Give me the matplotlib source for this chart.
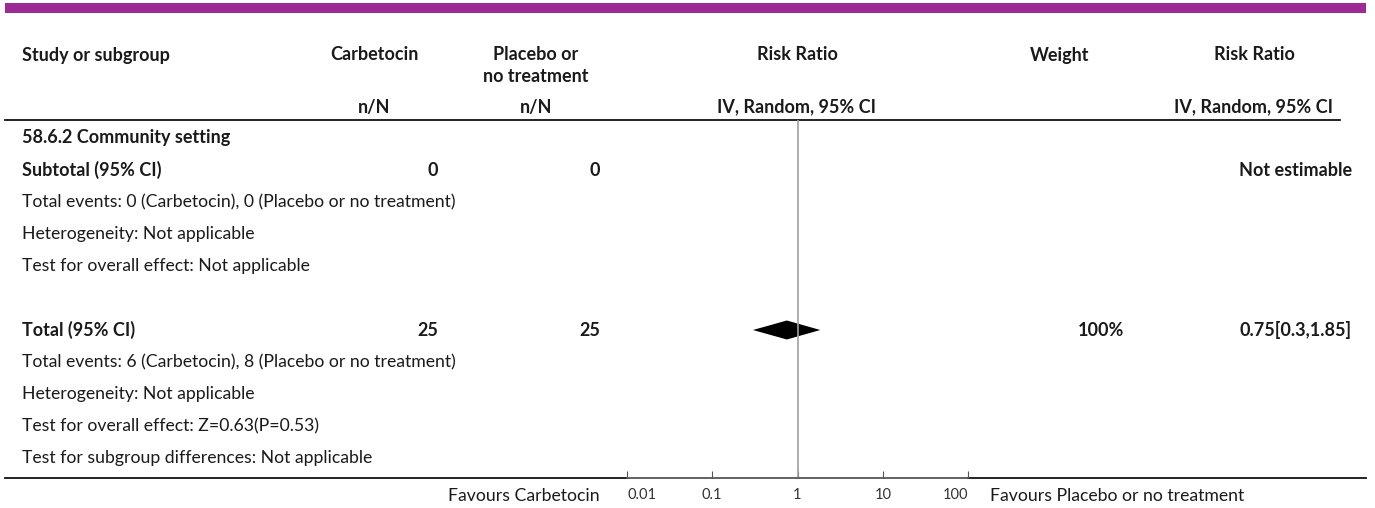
import matplotlib
matplotlib.use('Agg')
from matplotlib import pyplot as plt
import numpy as np

plt.rcParams['font.family'] = ['Lato', 'DejaVu Sans']

# data
exp_name = 'Carbetocin'
ctl_name = 'Placebo or no treatment'
subgroup_title = '58.6.2 Community setting'
subtotal_n = [0, 0]              # Carbetocin, Placebo
total_n = [25, 25]
events_sub = [0, 0]
events_total = [6, 8]
total_rr = 0.75
total_ci = [0.3, 1.85]
total_weight = '100%'
z_val = 0.63
p_val = 0.53
tick_vals = [0.01, 0.1, 1, 10, 100]
tick_labels = ['0.01', '0.1', '1', '10', '100']

W, H = 1375, 508
fig = plt.figure(figsize=(W / 100, H / 100), dpi=100)
bg = fig.add_axes([0, 0, 1, 1])
bg.set_xlim(0, W)
bg.set_ylim(H, 0)
bg.axis('off')

txt = '#1a1a1a'
fs = 12.7
fs_b = 13.0

# purple banner
bg.fill_between([5, 1366], 3, 13, color='#9c2a97', lw=0)

def t(x, y, s, ha='left', bold=False, color=txt, size=None):
    if size is None:
        size = fs_b if bold else fs
    bg.text(x, y, s, ha=ha, va='center', fontsize=size,
            fontweight='bold' if bold else 'normal', color=color)

# header
t(22, 55, 'Study or subgroup', bold=True)
t(374, 55, exp_name, ha='center', bold=True)
t(536, 55, 'Placebo or', ha='center', bold=True)
t(536, 76, 'no treatment', ha='center', bold=True)
t(797, 55, 'Risk Ratio', ha='center', bold=True)
t(1060, 55, 'Weight', ha='center', bold=True)
t(1254, 55, 'Risk Ratio', ha='center', bold=True)
t(374, 107, 'n/N', ha='center', bold=True)
t(536, 107, 'n/N', ha='center', bold=True)
t(797, 107, 'IV, Random, 95% CI', ha='center', bold=True)
t(1254, 107, 'IV, Random, 95% CI', ha='center', bold=True)
bg.plot([5, 1340], [120, 120], color='#111111', lw=1.3)

# subgroup
t(22, 138, subgroup_title, bold=True)
t(22, 170, 'Subtotal (95% CI)', bold=True)
t(438, 170, str(subtotal_n[0]), ha='right', bold=True)
t(600, 170, str(subtotal_n[1]), ha='right', bold=True)
t(1352, 170, 'Not estimable', ha='right', bold=True)
t(22, 202, f'Total events: {events_sub[0]} ({exp_name}), {events_sub[1]} ({ctl_name})')
t(22, 234, 'Heterogeneity: Not applicable')
t(22, 266, 'Test for overall effect: Not applicable')

# total
t(22, 330, 'Total (95% CI)', bold=True)
t(438, 330, str(total_n[0]), ha='right', bold=True)
t(600, 330, str(total_n[1]), ha='right', bold=True)
t(1124, 330, total_weight, ha='right', bold=True)
t(1352, 330, f'{total_rr}[{total_ci[0]},{total_ci[1]}]', ha='right', bold=True)
t(22, 362, f'Total events: {events_total[0]} ({exp_name}), {events_total[1]} ({ctl_name})')
t(22, 394, 'Heterogeneity: Not applicable')
t(22, 426, f'Test for overall effect: Z={z_val}(P={p_val})')
t(22, 458, 'Test for subgroup differences: Not applicable')

# bottom rule and favours labels
bg.plot([5, 627], [478, 478], color='#111111', lw=1.3)
bg.plot([968, 1366], [478, 478], color='#111111', lw=1.3)
t(600, 496, f'Favours {exp_name}', ha='right')
t(990, 496, f'Favours {ctl_name}')

# forest panel
ax = fig.add_axes([627 / W, (H - 478) / H, (968 - 627) / W, (478 - 120) / H])
ax.patch.set_alpha(0)
ax.set_xscale('log')
ax.set_xlim(tick_vals[0], tick_vals[-1])
ax.set_ylim(478, 120)
for side in ['top', 'right', 'left']:
    ax.spines[side].set_visible(False)
ax.spines['bottom'].set_color('#555555')
ax.spines['bottom'].set_linewidth(1.3)
ax.set_yticks([])
ax.set_xticks(tick_vals)
ax.set_xticklabels(tick_labels)
ax.minorticks_off()
ax.tick_params(axis='x', direction='in', length=5, width=0.8, color='#555555',
               labelsize=10.5, labelcolor='#333333', pad=7)
labs = ax.get_xticklabels()
labs[0].set_ha('left')
labs[-1].set_ha('right')
ax.axvline(1, color='#a0a0a0', lw=1.2)

# pooled diamond
row_y = 330
half_h = 9.5
ax.fill([total_ci[0], total_rr, total_ci[1], total_rr],
        [row_y, row_y - half_h, row_y, row_y + half_h], color='black', lw=0)

fig.savefig('out.png', dpi=100)
